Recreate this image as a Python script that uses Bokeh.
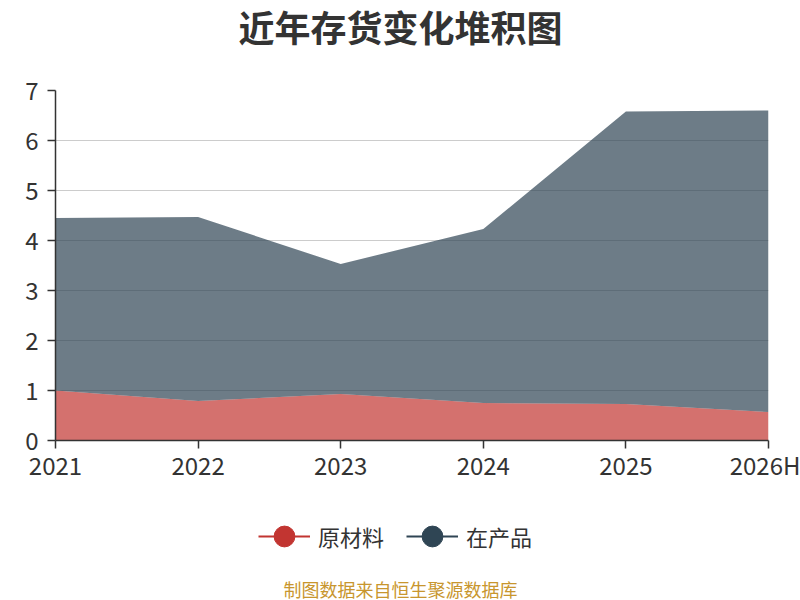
from bokeh.plotting import figure
from bokeh.layouts import column
from bokeh.models import ColumnDataSource, FixedTicker, Legend, LegendItem, Label
from bokeh.embed import file_html
from bokeh.resources import INLINE

years = ["2021", "2022", "2023", "2024", "2025", "2026H"]
raw_material = [1.00, 0.79, 0.93, 0.75, 0.73, 0.57]
work_in_progress = [3.45, 3.68, 2.60, 3.48, 5.85, 6.03]

red = "#c23531"
dark = "#2f4554"
font = "Noto Sans CJK SC"
nan = float("nan")


def strip(height):
    # blank figure used only to hold texts / legend (frame is aligned with the chart)
    s = figure(
        width=800,
        height=height,
        x_range=(0, 1),
        y_range=(0, 1),
        x_axis_location=None,
        y_axis_location=None,
        toolbar_location=None,
        tools="",
        output_backend="svg",
        min_border=0,
    )
    s.outline_line_color = None
    s.grid.visible = False
    return s


# title strip
t = strip(50)
t.add_layout(Label(
    x=345, y=25, x_units="screen", y_units="screen",
    text="近年存货变化堆积图",
    text_font=font, text_font_size="36px", text_font_style="bold",
    text_color="#333333", text_align="center", text_baseline="middle",
))

# main chart
source = ColumnDataSource(data=dict(
    x=list(range(len(years))),
    raw=raw_material,
    wip=work_in_progress,
))

p = figure(
    width=800,
    height=445,
    x_range=(0, len(years) - 1),
    y_range=(0, 7),
    toolbar_location=None,
    tools="",
    output_backend="svg",
    min_border_left=55,
    min_border_right=32,
    min_border_top=40,
    min_border_bottom=55,
)
p.outline_line_color = None

p.varea_stack(["raw", "wip"], x="x", color=[red, dark], fill_alpha=0.7, source=source)

p.xaxis.ticker = FixedTicker(ticks=list(range(len(years))))
p.xaxis.major_label_overrides = {i: y for i, y in enumerate(years)}
p.yaxis.ticker = FixedTicker(ticks=list(range(0, 8)))
for ax in (p.xaxis, p.yaxis):
    ax.axis_line_color = "#333333"
    ax.axis_line_width = 1.5
    ax.major_tick_line_color = "#333333"
    ax.major_tick_line_width = 1.5
    ax.major_tick_out = 8
    ax.major_tick_in = 0
    ax.minor_tick_line_color = None
    ax.major_label_text_font = font
    ax.major_label_text_font_size = "24px"
    ax.major_label_text_color = "#333333"
p.xaxis.major_label_standoff = -2
p.yaxis.major_label_standoff = 9

p.xgrid.grid_line_color = None
p.ygrid.grid_line_color = "#cccccc"
p.ygrid.grid_line_width = 1.2

# legend and source note strip
q = strip(105)

r_line = q.line([nan, nan], [nan, nan], line_color=red, line_width=2)
r_dot = q.scatter([nan], [nan], size=21, fill_color=red, line_color=red)
d_line = q.line([nan, nan], [nan, nan], line_color=dark, line_width=2)
d_dot = q.scatter([nan], [nan], size=21, fill_color=dark, line_color=dark)

legend = Legend(
    items=[
        LegendItem(label="原材料", renderers=[r_line, r_dot]),
        LegendItem(label="在产品", renderers=[d_line, d_dot]),
    ],
    orientation="horizontal",
    location=(203, 38),
    glyph_width=52,
    glyph_height=52,
    label_standoff=8,
    spacing=22,
    padding=0,
    margin=0,
    border_line_color=None,
    background_fill_alpha=0,
    label_text_font=font,
    label_text_font_size="22px",
    label_text_color="#333333",
)
q.add_layout(legend)

q.add_layout(Label(
    x=345, y=12, x_units="screen", y_units="screen",
    text="制图数据来自恒生聚源数据库",
    text_font=font, text_font_size="18px",
    text_color="#c8962e", text_align="center", text_baseline="middle",
))

layout = column(t, p, q, spacing=0)
open("out.html", "w").write(file_html(layout, INLINE))
